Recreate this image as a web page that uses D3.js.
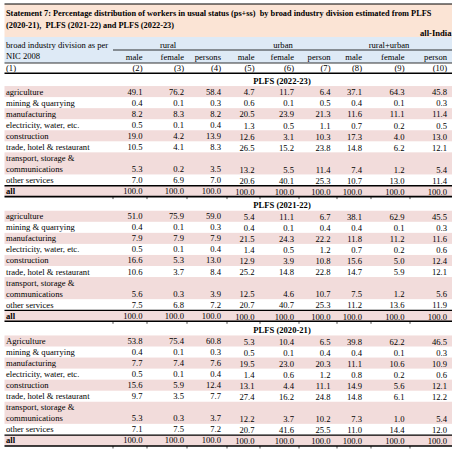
<!DOCTYPE html>
<html>
<head>
<meta charset="utf-8">
<script src="https://cdn.jsdelivr.net/npm/d3@7/dist/d3.min.js"></script>
<style>
  body { margin: 0; background: #fff; }
  text { font-family: 'Liberation Serif', 'Times New Roman', serif; fill: #000; white-space: pre; }
</style>
</head>
<body>
<div id="main"></div>
<script>
const w = 457, h = 449, fs = 8.6

// data
const industries = ['agriculture', 'mining & quarrying', 'manufacturing', 'electricity, water, etc.', 'construction',
                    'trade, hotel & restaurant', 'transport, storage & communications', 'other services', 'all']
const surveys = ['PLFS (2022-23)', 'PLFS (2021-22)', 'PLFS (2020-21)']
const groups = ['rural', 'urban', 'rural+urban']
const colHeads = ['male', 'female', 'persons', 'male', 'female', 'person', 'male', 'female', 'person']
const colNums = ['(2)', '(3)', '(4)', '(5)', '(6)', '(7)', '(8)', '(9)', '(10)']

const plfs2223 = [
  [49.1, 76.2, 58.4, 4.7, 11.7, 6.4, 37.1, 64.3, 45.8],
  [0.4, 0.1, 0.3, 0.6, 0.1, 0.5, 0.4, 0.1, 0.3],
  [8.2, 8.3, 8.2, 20.5, 23.9, 21.3, 11.6, 11.1, 11.4],
  [0.5, 0.1, 0.4, 1.3, 0.5, 1.1, 0.7, 0.2, 0.5],
  [19.0, 4.2, 13.9, 12.6, 3.1, 10.3, 17.3, 4.0, 13.0],
  [10.5, 4.1, 8.3, 26.5, 15.2, 23.8, 14.8, 6.2, 12.1],
  [5.3, 0.2, 3.5, 13.2, 5.5, 11.4, 7.4, 1.2, 5.4],
  [7.0, 6.9, 7.0, 20.6, 40.1, 25.3, 10.7, 13.0, 11.4],
  [100, 100, 100, 100, 100, 100, 100, 100, 100]
]
const plfs2122 = [
  [51.0, 75.9, 59.0, 5.4, 11.1, 6.7, 38.1, 62.9, 45.5],
  [0.4, 0.1, 0.3, 0.4, 0.1, 0.4, 0.4, 0.1, 0.3],
  [7.9, 7.9, 7.9, 21.5, 24.3, 22.2, 11.8, 11.2, 11.6],
  [0.5, 0.1, 0.4, 1.4, 0.5, 1.2, 0.7, 0.2, 0.6],
  [16.6, 5.3, 13.0, 12.9, 3.9, 10.8, 15.6, 5.0, 12.4],
  [10.6, 3.7, 8.4, 25.2, 14.8, 22.8, 14.7, 5.9, 12.1],
  [5.6, 0.3, 3.9, 12.5, 4.6, 10.7, 7.5, 1.2, 5.6],
  [7.5, 6.8, 7.2, 20.7, 40.7, 25.3, 11.2, 13.6, 11.9],
  [100, 100, 100, 100, 100, 100, 100, 100, 100]
]
const plfs2021 = [
  [53.8, 75.4, 60.8, 5.3, 10.4, 6.5, 39.8, 62.2, 46.5],
  [0.4, 0.1, 0.3, 0.5, 0.1, 0.4, 0.4, 0.1, 0.3],
  [7.7, 7.4, 7.6, 19.5, 23.0, 20.3, 11.1, 10.6, 10.9],
  [0.5, 0.1, 0.4, 1.4, 0.6, 1.2, 0.8, 0.2, 0.6],
  [15.6, 5.9, 12.4, 13.1, 4.4, 11.1, 14.9, 5.6, 12.1],
  [9.7, 3.5, 7.7, 27.4, 16.2, 24.8, 14.8, 6.1, 12.2],
  [5.3, 0.3, 3.7, 12.2, 3.7, 10.2, 7.3, 1.0, 5.4],
  [7.1, 7.5, 7.2, 20.7, 41.6, 25.5, 11.0, 14.4, 12.0],
  [100, 100, 100, 100, 100, 100, 100, 100, 100]
]
const tables = [plfs2223, plfs2122, plfs2021]

const svg = d3.select('#main')
            .append('svg')
            .attr('width', w)
            .attr('height', h)

const left = 4.5, right = 452

// column right edges for the numbers
const xCol = d3.scaleOrdinal()
              .domain(d3.range(9))
              .range([142.5, 184, 221, 254.5, 294, 330.5, 362, 404.5, 447])
const xGroup = d3.scaleOrdinal()
              .domain(groups)
              .range([168, 283, 389])
const colEdges = [113, 147, 187, 227, 260, 299, 337, 371, 410]

// line index inside a section -> y centre
const ySec = d3.scaleLinear().domain([0, 1]).range([80.5, 205.2])
const yLine = (s, k) => ySec(s) + k * 11.05

// header backgrounds
svg.append('rect').attr('x', left).attr('y', 4).attr('width', right - left).attr('height', 33).attr('fill', '#fbe4d5')
svg.append('rect').attr('x', left).attr('y', 37).attr('width', right - left).attr('height', 26).attr('fill', '#deeaf6')

svg.append('line').attr('x1', left).attr('x2', right).attr('y1', 4).attr('y2', 4).attr('stroke', '#000').attr('stroke-width', 1)

//title
const title = svg.append('text').attr('font-weight', 'bold').style('font-size', '8.3px')
title.append('tspan').attr('x', 6).attr('y', 15.5)
     .text('Statement 7: Percentage distribution of workers in usual status (ps+ss)  by broad industry division estimated from PLFS')
title.append('tspan').attr('x', 6).attr('y', 27.5)
     .text('(2020-21),  PLFS (2021-22) and PLFS (2022-23)')
svg.append('text').attr('x', 451.5).attr('y', 36).attr('text-anchor', 'end')
   .attr('font-weight', 'bold').style('font-size', fs + 'px').text('all-India')

// column headers
svg.append('text').attr('x', 6).attr('y', 48).style('font-size', fs + 'px').text('broad industry division as per')
svg.append('text').attr('x', 6).attr('y', 59).style('font-size', fs + 'px').text('NIC 2008')
svg.append('text').attr('x', 6).attr('y', 71).style('font-size', fs + 'px').text('(1)')

svg.selectAll('.grp')
   .data(groups)
   .enter()
   .append('text')
   .attr('class', 'grp')
   .attr('x', d => xGroup(d))
   .attr('y', 47.5)
   .attr('text-anchor', 'middle')
   .style('font-size', fs + 'px')
   .text(d => d)

svg.append('line').attr('x1', 113).attr('x2', right).attr('y1', 50).attr('y2', 50).attr('stroke', '#000').attr('stroke-width', 0.8)

svg.selectAll('.chead')
   .data(colHeads)
   .enter()
   .append('text')
   .attr('class', 'chead')
   .attr('x', (d, i) => xCol(i))
   .attr('y', 59.5)
   .attr('text-anchor', 'end')
   .style('font-size', fs + 'px')
   .text(d => d)

svg.selectAll('.cnum')
   .data(colNums)
   .enter()
   .append('text')
   .attr('class', 'cnum')
   .attr('x', (d, i) => xCol(i))
   .attr('y', 70.5)
   .attr('text-anchor', 'end')
   .style('font-size', fs + 'px')
   .text(d => d)

svg.append('line').attr('x1', left).attr('x2', right).attr('y1', 63).attr('y2', 63).attr('stroke', '#000').attr('stroke-width', 0.8)
svg.append('line').attr('x1', left).attr('x2', right).attr('y1', 73.3).attr('y2', 73.3).attr('stroke', '#000').attr('stroke-width', 1.6)

// sections
tables.forEach((tbl, s) => {
    const g = svg.append('g').attr('class', 'section')

    // row line index: transport takes 2 lines
    const lineOf = i => i <= 6 ? i + 1 : i + 2
    const pink = [0, 2, 4, 6, 8]

    pink.forEach(i => {
        const top = yLine(s, lineOf(i)) - 5.5
        const hh = i == 6 ? 22.1 : 11.05
        g.append('rect')
         .attr('x', left).attr('y', top)
         .attr('width', right - left).attr('height', hh)
         .attr('fill', '#f2dcdb')
    })

    g.append('text')
     .attr('x', 282)
     .attr('y', yLine(s, 0) + 3)
     .attr('text-anchor', 'middle')
     .attr('font-weight', 'bold')
     .style('font-size', fs + 'px')
     .text(surveys[s])

    industries.forEach((name, i) => {
        let label = name
        if (s == 2 && i == 0) label = 'Agriculture'
        const ln = lineOf(i)
        if (i == 6) {
            g.append('text').attr('x', 6).attr('y', yLine(s, ln) + 3).style('font-size', fs + 'px').text('transport, storage &')
            g.append('text').attr('x', 6).attr('y', yLine(s, ln + 1) + 3).style('font-size', fs + 'px').text('communications')
        } else {
            g.append('text').attr('x', 6).attr('y', yLine(s, ln) + 3)
             .attr('font-weight', i == 8 ? 'bold' : 'normal')
             .style('font-size', fs + 'px').text(label)
        }
        const numLine = i == 6 ? ln + 1 : ln
        g.selectAll('.v' + i)
         .data(tbl[i])
         .enter()
         .append('text')
         .attr('x', (d, j) => xCol(j))
         .attr('y', (d, j) => yLine(s, numLine) + 3 + (j >= 3 ? 0.8 : 0))
         .attr('text-anchor', 'end')
         .style('font-size', fs + 'px')
         .text(d => d.toFixed(1))
    })

    const allTop = yLine(s, 10) - 5.3
    const allBot = yLine(s, 10) + 5.6
    g.append('line').attr('x1', left).attr('x2', right).attr('y1', allTop).attr('y2', allTop).attr('stroke', '#000').attr('stroke-width', 1.4)
    g.append('line').attr('x1', left).attr('x2', right).attr('y1', allBot).attr('y2', allBot).attr('stroke', '#000').attr('stroke-width', 1.6)

    g.selectAll('.tick')
     .data(colEdges)
     .enter()
     .append('line')
     .attr('x1', d => d).attr('x2', d => d)
     .attr('y1', allBot).attr('y2', allBot + 2.5)
     .attr('stroke', '#000').attr('stroke-width', 0.7)
})
</script>
</body>
</html>
